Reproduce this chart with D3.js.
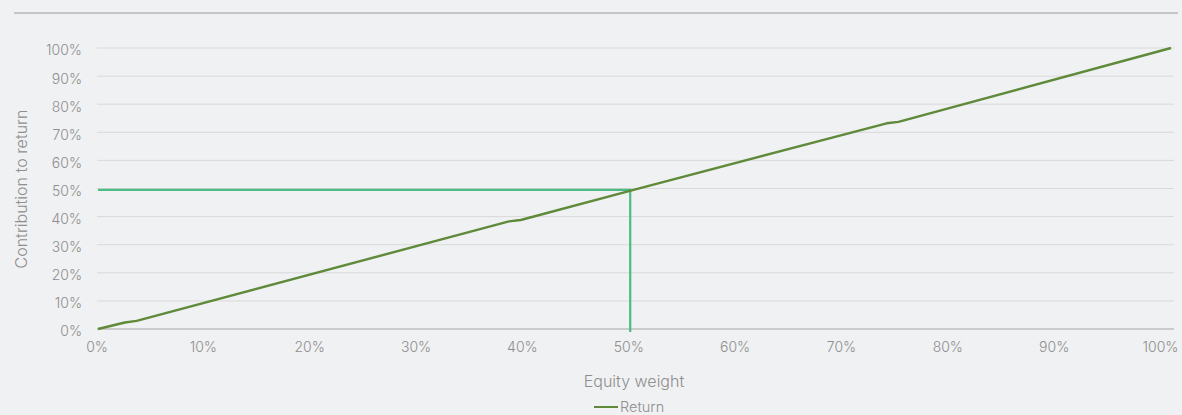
<!DOCTYPE html>
<html>
<head>
<meta charset="utf-8">
<script src="https://cdn.jsdelivr.net/npm/d3@7"></script>
<style>
  body { margin: 0; background: #f0f1f3; }
  svg { display: block; }
  svg text { font-family: "Inter", "Noto Sans", sans-serif; font-weight: 300; }
</style>
</head>
<body>
<svg id="chart" width="1182" height="415"></svg>
<script>
// equity weight (%) vs contribution to return (%)
const equityWeight = [0, 2.5, 3.6, 38.3, 39.4, 50, 73.5, 74.6, 100];
const contribution = [0, 2.3, 2.9, 38.3, 38.8, 49.6, 73.2, 73.7, 100];
const marker = { x: 49.6, y: 49.5 };
const tickValues = [0, 10, 20, 30, 40, 50, 60, 70, 80, 90, 100];

const svg = d3.select("#chart");
const labelColor = "#8e8e8e";

const x = d3.scaleLinear().domain([0, 100]).range([98, 1171]);
const xTick = d3.scaleLinear().domain([0, 100]).range([96.5, 1160]);
const y = d3.scaleLinear().domain([0, 100]).range([329, 48]);

// top rule
svg.append("line")
    .attr("x1", 14).attr("x2", 1178)
    .attr("y1", 13).attr("y2", 13)
    .attr("stroke", "#9a9a9a").attr("stroke-width", 1);

// gridlines
svg.append("g")
    .selectAll("line")
    .data(tickValues.filter(d => d > 0))
    .enter().append("line")
    .attr("x1", 97).attr("x2", 1174)
    .attr("y1", d => y(d)).attr("y2", d => y(d))
    .attr("stroke", "#d9d9d9").attr("stroke-width", 1);

// y labels
const yAxis = d3.axisLeft(y).tickValues(tickValues).tickFormat(d => d + "%").tickSize(0).tickPadding(0);
svg.append("g")
    .attr("transform", "translate(82,2.5)")
    .call(yAxis)
    .call(g => g.select(".domain").remove())
    .selectAll("text")
    .attr("fill", labelColor).attr("font-size", 14);

// x axis baseline
svg.append("line")
    .attr("x1", 97).attr("x2", 1174)
    .attr("y1", y(0)).attr("y2", y(0))
    .attr("stroke", "#a6a6a6").attr("stroke-width", 1.2);

const xAxis = d3.axisBottom(xTick).tickValues(tickValues).tickFormat(d => d + "%").tickSize(0).tickPadding(13);
svg.append("g")
    .attr("transform", `translate(0,${y(0)})`)
    .call(xAxis)
    .call(g => g.select(".domain").remove())
    .selectAll("text")
    .attr("fill", labelColor).attr("font-size", 14);

// axis titles
svg.append("text")
    .attr("transform", "translate(27,189) rotate(-90)")
    .attr("text-anchor", "middle")
    .attr("fill", labelColor).attr("font-size", 16)
    .text("Contribution to return");

svg.append("text")
    .attr("x", 634).attr("y", 387)
    .attr("text-anchor", "middle")
    .attr("fill", labelColor).attr("font-size", 16)
    .text("Equity weight");

// reference lines
svg.append("path")
    .attr("d", `M${x(0)},${y(marker.y)}H${x(marker.x)}V${y(0) + 3}`)
    .attr("fill", "none")
    .attr("stroke", "#4cbc84").attr("stroke-width", 2.2);

// return line
const pts = equityWeight.map((d, i) => [d, contribution[i]]);
const line = d3.line().x(d => x(d[0])).y(d => y(d[1]));
svg.append("path")
    .datum(pts)
    .attr("d", line)
    .attr("fill", "none")
    .attr("stroke", "#5e8a3a").attr("stroke-width", 2.4)
    .attr("stroke-linejoin", "round");

// legend
svg.append("line")
    .attr("x1", 594).attr("x2", 618)
    .attr("y1", 407).attr("y2", 407)
    .attr("stroke", "#5e8a3a").attr("stroke-width", 2);
svg.append("text")
    .attr("x", 620).attr("y", 412)
    .attr("fill", labelColor).attr("font-size", 14.5)
    .text("Return");
</script>
</body>
</html>
